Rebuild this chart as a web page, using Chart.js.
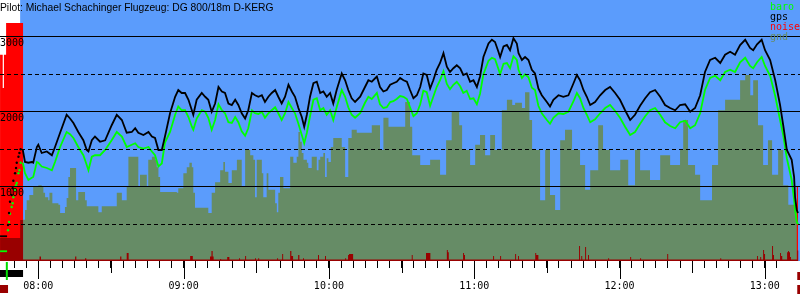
<!DOCTYPE html>
<html>
<head>
<meta charset="utf-8">
<script src="https://cdn.jsdelivr.net/npm/chart.js@4/dist/chart.umd.min.js"></script>
<style>
  html, body { margin: 0; padding: 0; background: #fff; }
  #wrap { width: 800px; height: 300px; }
</style>
</head>
<body>
<div id="wrap"><canvas id="flightChart" width="800" height="300"></canvas></div>
<script>
// all times are minutes after midnight, altitudes in metres
const timeMin = 464.18;
const timeMax = 794.53;
const skyStart = 472.5;
const skyEnd = 794.53;
const towStart = 467.1;
const towEnd = 473.6;

const titleText = 'Pilot: Michael Schachinger Flugzeug: DG 800/18m D-KERG';
const legendItems = ['baro', 'gps', 'noise', 'gnd'];
const altTicks = [500, 1000, 1500, 2000, 2500, 3000];

// gps / baro track
const trackTimes = [
  464.2, 467.1, 467.5, 467.9, 468.3, 469.0, 469.4, 469.7, 470.4, 470.8, 471.1, 471.8, 472.2, 472.7,
  473.6, 474.5, 475.9, 477.3, 477.9, 479.4, 480.0, 481.4, 483.5, 485.6,
  486.9, 489.0, 491.7, 493.1, 494.5, 496.5, 498.6, 500.0, 500.7, 502.1,
  503.4, 505.5, 507.6, 510.3, 512.4, 514.5, 516.5, 518.6, 520.0, 521.3,
  523.4, 525.5, 526.9, 528.2, 529.6, 531.0, 532.3, 534.4, 536.5, 537.8,
  539.2, 540.6, 542.0, 543.4, 544.0, 545.4, 547.5, 548.9, 550.2, 551.6,
  553.0, 554.4, 555.8, 557.1, 558.5, 559.9, 561.3, 562.6, 564.0, 565.4,
  566.7, 568.2, 569.5, 570.9, 572.3, 573.6, 575.0, 576.4, 577.8, 579.1,
  580.5, 581.9, 583.3, 584.7, 586.0, 587.4, 588.8, 589.8, 590.9, 592.2,
  593.6, 595.0, 596.4, 597.7, 599.1, 600.5, 601.8, 603.2, 605.3, 606.7,
  608.0, 609.4, 610.8, 612.9, 614.9, 616.3, 617.7, 619.8, 621.1, 622.5,
  623.9, 625.3, 626.6, 628.0, 629.4, 630.8, 632.2, 633.5, 634.9, 636.3,
  637.7, 639.0, 640.4, 641.8, 643.1, 644.5, 645.9, 647.3, 648.7, 650.0,
  651.4, 652.8, 654.2, 655.5, 656.9, 658.3, 659.7, 661.1, 662.4, 663.8,
  665.9, 667.3, 668.6, 670.0, 670.7, 672.1, 673.5, 674.8, 676.2, 677.6,
  678.3, 679.7, 681.0, 682.4, 683.8, 685.1, 686.5, 687.9, 690.0, 691.3,
  692.7, 694.8, 696.8, 698.9, 701.0, 702.4, 703.7, 705.1, 706.5, 707.9,
  709.9, 712.0, 714.1, 716.1, 718.2, 720.2, 722.3, 724.4, 726.4, 728.5,
  730.6, 732.6, 734.7, 736.8, 738.8, 740.9, 743.0, 745.0, 747.1, 749.2,
  751.2, 753.3, 755.3, 757.4, 759.5, 761.6, 763.6, 765.7, 767.7, 769.8,
  771.9, 773.9, 775.2, 776.8, 778.7, 780.1, 782.2, 784.3, 786.3, 787.6,
  789.1, 791.1, 792.1, 792.5, 793.2, 793.7
];
const gpsAlt = [
  330, 330, 480, 640, 790, 880, 970, 1070, 1170, 1240, 1310, 1390, 1440, 1490,
  1480, 1320, 1310, 1320, 1310, 1520, 1550, 1440, 1460, 1410,
  1520, 1710, 1950, 1900, 1840, 1720, 1610, 1480, 1460, 1610,
  1660, 1590, 1610, 1810, 1950, 1880, 1710, 1720, 1770, 1710,
  1680, 1720, 1660, 1640, 1480, 1480, 1660, 1970, 2190, 2280,
  2240, 2240, 2150, 2010, 1950, 2150, 2240, 2190, 2150, 1990,
  2100, 2320, 2260, 2240, 2100, 2080, 2150, 2080, 1970, 1900,
  2010, 2240, 2210, 2190, 2210, 2120, 2190, 2240, 2280, 2190,
  2100, 2190, 2350, 2260, 2190, 2040, 1920, 1790, 1950, 2190,
  2370, 2390, 2240, 2260, 2190, 2240, 2100, 2280, 2500, 2410,
  2280, 2170, 2120, 2190, 2320, 2410, 2390, 2460, 2320, 2260,
  2280, 2350, 2370, 2390, 2440, 2410, 2390, 2280, 2170, 2210,
  2320, 2500, 2480, 2300, 2410, 2550, 2640, 2770, 2590, 2520,
  2570, 2610, 2570, 2480, 2500, 2390, 2410, 2320, 2460, 2720,
  2900, 2950, 2920, 2790, 2720, 2860, 2880, 2810, 2970, 2900,
  2770, 2680, 2720, 2680, 2550, 2500, 2300, 2210, 2120, 2060,
  2150, 2210, 2190, 2210, 2370, 2480, 2410, 2280, 2190, 2080,
  2120, 2210, 2280, 2320, 2240, 2150, 2010, 1880, 1950, 2070,
  2170, 2250, 2280, 2190, 2080, 2040, 2010, 2080, 2090, 1990,
  2040, 2210, 2520, 2680, 2710, 2640, 2750, 2790, 2750, 2880,
  2950, 2840, 2810, 2890, 2950, 2810, 2680, 2410, 2080, 1810,
  1480, 1350, 1120, 850, 680, 640
];
const baroAlt = [
  130, 130, 410, 520, 630, 720, 770, 850, 950, 1010, 1040, 1170, 1210, 1310,
  1310, 1170, 1080, 1110, 1120, 1320, 1310, 1260, 1240, 1210,
  1320, 1520, 1720, 1690, 1640, 1520, 1410, 1280, 1210, 1390,
  1410, 1410, 1480, 1610, 1720, 1660, 1520, 1550, 1570, 1520,
  1500, 1520, 1460, 1410, 1260, 1300, 1580, 1720, 1950, 2060,
  2010, 2010, 1920, 1790, 1750, 1900, 2010, 1990, 1910, 1750,
  1880, 2090, 2010, 1970, 1850, 1840, 1920, 1850, 1730, 1670,
  1770, 2010, 1970, 1960, 1990, 1910, 1970, 2010, 2050, 1970,
  1880, 1970, 2120, 2040, 1970, 1830, 1680, 1570, 1710, 1930,
  2150, 2170, 2010, 2040, 1950, 2010, 1880, 2050, 2280, 2190,
  2050, 1950, 1910, 1970, 2110, 2190, 2160, 2240, 2090, 2040,
  2050, 2120, 2130, 2160, 2200, 2190, 2160, 2050, 1930, 1970,
  2090, 2270, 2250, 2070, 2190, 2320, 2410, 2530, 2360, 2290,
  2350, 2390, 2330, 2240, 2270, 2160, 2170, 2090, 2230, 2490,
  2670, 2710, 2690, 2560, 2490, 2630, 2640, 2570, 2730, 2680,
  2550, 2440, 2490, 2450, 2310, 2280, 2070, 1970, 1880, 1830,
  1910, 1970, 1960, 1990, 2130, 2240, 2170, 2040, 1950, 1850,
  1890, 1970, 2040, 2080, 2000, 1910, 1790, 1680, 1720, 1830,
  1930, 2010, 2040, 1950, 1850, 1800, 1770, 1850, 1870, 1770,
  1810, 1970, 2280, 2440, 2470, 2410, 2520, 2550, 2520, 2650,
  2710, 2600, 2570, 2650, 2720, 2600, 2470, 2200, 1880, 1680,
  1370, 1080, 810, 680, 520, 490
];

// terrain below the flight path (stepped)
const gndTimes = [
  473.7, 474.5, 475.2, 476.3, 477.9, 480.0, 481.4, 482.1, 482.8, 484.1,
  484.6, 485.8, 488.3, 489.0, 491.0, 491.7, 492.4, 493.1, 495.6, 496.5,
  499.3, 500.0, 504.8, 506.2, 512.4, 514.5, 516.5, 517.2, 521.3, 522.0,
  524.8, 525.4, 526.9, 528.2, 528.9, 529.6, 530.3, 537.2, 537.8, 539.9,
  541.3, 542.4, 543.4, 544.0, 544.7, 550.2, 551.6, 553.0, 555.1, 556.4,
  557.1, 558.5, 559.9, 562.0, 564.0, 565.4, 567.5, 568.8, 569.5, 570.2,
  572.3, 572.9, 574.3, 575.0, 577.8, 578.5, 579.1, 579.8, 581.2, 584.0,
  585.3, 586.7, 587.4, 588.1, 588.8, 589.5, 590.9, 591.5, 592.9, 595.0,
  595.7, 596.4, 597.7, 598.4, 599.1, 599.8, 600.8, 601.8, 605.3, 606.7,
  608.0, 609.4, 611.5, 617.7, 621.1, 622.5, 624.6, 631.5, 633.5, 634.4,
  637.7, 641.8, 645.9, 648.4, 650.7, 653.8, 655.0, 658.3, 660.4, 662.4,
  664.5, 666.6, 668.6, 671.4, 673.5, 675.7, 676.9, 679.7, 681.0, 682.8,
  683.9, 687.2, 689.3, 691.3, 693.4, 695.5, 697.5, 700.4, 703.7, 705.8,
  707.9, 711.2, 713.2, 716.1, 720.3, 723.6, 726.4, 728.5, 732.6, 736.8,
  740.9, 745.0, 746.3, 748.3, 751.2, 753.3, 758.2, 760.7, 763.6, 767.7,
  769.8, 771.9, 774.0, 775.2, 777.2, 779.3, 781.3, 783.0, 785.5, 787.6,
  789.7, 793.3, 793.8
];
const gndAlt = [
  550, 680, 810, 880, 990, 1010, 990, 910, 850, 810,
  910, 770, 750, 640, 720, 840, 1120, 1240, 810, 920,
  810, 730, 650, 730, 910, 810, 990, 1390, 990, 1150,
  990, 1350, 1390, 1350, 1250, 1120, 920, 910, 970, 1170,
  1250, 1310, 1250, 910, 710, 640, 910, 1050, 1210, 1320,
  1190, 1040, 1210, 1350, 990, 1480, 1410, 1350, 850, 1350,
  1170, 850, 1170, 950, 770, 650, 910, 1120, 970, 1390,
  1310, 1390, 1720, 1590, 1440, 1350, 1310, 1240, 1390, 1210,
  1350, 1390, 1440, 1120, 1370, 1320, 1520, 1640, 1520, 1120,
  1640, 1750, 1710, 1810, 1480, 1910, 1790, 2120, 1790, 1410,
  1280, 1350, 1150, 1610, 1990, 1810, 1480, 1280, 1550, 1680,
  1410, 1680, 1480, 2010, 2150, 2080, 2110, 2040, 2250, 1880,
  1480, 810, 1480, 880, 680, 1610, 1750, 1480, 1280, 950,
  1210, 1810, 1480, 1210, 1350, 1010, 1480, 1210, 1080, 1410,
  1280, 1480, 1880, 1280, 1150, 810, 1280, 2010, 2150, 2150,
  2410, 2480, 2210, 2410, 1810, 1280, 1610, 1150, 1480, 1010,
  750, 610, 610
];

// variometer noise level, 0..1000 (stepped)
const noiseTimes = [
  464.2, 472.5, 473.7, 480.5, 481.1, 495.2, 495.7, 499.3, 499.8, 513.8,
  514.3, 516.5, 517.3, 542.7, 543.8, 550.9, 551.5, 552.0, 552.4, 555.1,
  555.5, 558.0, 558.9, 562.9, 563.3, 565.4, 565.8, 569.5, 569.9, 570.8,
  571.2, 578.6, 579.0, 580.7, 581.1, 584.0, 584.5, 585.2, 587.3, 587.8,
  589.3, 589.7, 595.5, 595.9, 598.4, 598.8, 606.7, 607.1, 607.9, 608.3,
  610.0, 634.2, 634.6, 640.1, 641.9, 648.7, 649.1, 649.5, 655.4, 655.8,
  656.2, 667.8, 668.2, 670.7, 671.1, 676.9, 677.3, 678.1, 678.5, 685.2,
  685.6, 686.5, 703.3, 703.7, 704.2, 704.6, 705.8, 706.2, 707.0, 707.4,
  715.3, 715.7, 724.4, 724.8, 728.5, 728.9, 739.7, 740.1, 761.6, 762.0,
  776.8, 777.2, 778.1, 778.5, 779.3, 779.7, 780.1, 783.0, 783.4, 783.8,
  786.3, 786.7, 787.2, 789.2, 789.6, 790.0, 790.4, 790.8, 793.4, 793.9
];
const noiseLevel = [
  88, 157, 6, 17, 6, 17, 6, 11, 6, 17,
  6, 31, 6, 19, 6, 17, 38, 17, 6, 8,
  6, 15, 6, 11, 6, 19, 6, 11, 6, 11,
  6, 11, 6, 27, 6, 38, 19, 6, 23, 6,
  11, 6, 23, 6, 19, 6, 11, 6, 23, 27,
  6, 23, 6, 31, 6, 42, 34, 6, 31, 23,
  6, 19, 6, 19, 6, 27, 6, 19, 6, 31,
  23, 6, 57, 6, 19, 6, 54, 6, 23, 6,
  11, 6, 15, 6, 11, 6, 27, 6, 11, 6,
  19, 6, 15, 6, 42, 27, 6, 57, 23, 6,
  31, 19, 6, 34, 38, 34, 15, 6, 40, 0
];
// engine noise on ground and at the end
const engineTimes = [464.2, 465.3, 465.8, 466.7, 473.7, 793.2, 793.7];
const engineLevel = [790, 663, 790, 912, 0, 287, 0];

// markers below the time axis
const towBar = [464.18, 473.7];
const takeoffAt = 467.0;
const startBox = [464.18, 467.5];
const endBox = [793.4, 794.53];

const SKY = '#5b9cfc';
const GND = '#668c66';
const monoFont = { family: 'DejaVu Sans Mono', size: 10 };

const toPoints = (xs, ys) => xs.map((x, i) => ({ x: x, y: ys[i] }));
const inTow = ctx => ctx.raw && ctx.raw.x > towStart && ctx.raw.x < towEnd;
const towSegment = seg => (seg.p0.parsed.x >= towStart && seg.p1.parsed.x <= towEnd) ? 'rgba(0,0,0,0)' : undefined;
const pad2 = n => (n < 10 ? '0' : '') + n;

const skyPlugin = {
    id: 'sky',
    beforeDatasetsDraw(chart) {
        const { ctx, chartArea, scales } = chart;
        const x0 = scales.x.getPixelForValue(skyStart);
        const x1 = scales.x.getPixelForValue(skyEnd);
        ctx.save();
        ctx.fillStyle = SKY;
        ctx.fillRect(x0, chartArea.top, x1 - x0, chartArea.bottom - chartArea.top);
        ctx.restore();
    }
};

// altitude grid on top of the data: solid every 1000 m, dashed at 500 m
const altGridPlugin = {
    id: 'altGrid',
    afterDatasetsDraw(chart) {
        const { ctx, chartArea, scales } = chart;
        const ys = scales.y;
        ctx.save();
        ctx.strokeStyle = '#000';
        ctx.lineWidth = 1;
        ctx.fillStyle = '#000';
        ctx.font = '10px "DejaVu Sans Mono"';
        ctx.textBaseline = 'top';
        ctx.textAlign = 'left';
        ys.ticks.forEach(t => {
            const py = Math.round(ys.getPixelForValue(t.value)) + 0.5;
            const major = t.value % 1000 === 0;
            ctx.setLineDash(major ? [] : [4, 3]);
            ctx.beginPath();
            ctx.moveTo(chartArea.left, py);
            ctx.lineTo(chartArea.right, py);
            ctx.stroke();
            if (major) ctx.fillText(String(t.value), chartArea.left, py + 1.5);
        });
        ctx.restore();
    }
};

const overlayPlugin = {
    id: 'overlay',
    afterDraw(chart) {
        const { ctx, chartArea, scales } = chart;
        const xs = scales.x;
        const bottom = chartArea.bottom;
        ctx.save();

        // longer tick marks for half hours and hours
        ctx.strokeStyle = '#000';
        ctx.lineWidth = 1;
        xs.ticks.forEach(t => {
            if (t.value % 30 !== 0) return;
            const px = Math.round(xs.getPixelForValue(t.value)) + 0.5;
            const len = t.value % 60 === 0 ? 18 : 12;
            ctx.beginPath();
            ctx.moveTo(px, bottom);
            ctx.lineTo(px, bottom + len);
            ctx.stroke();
        });

        // flight phase markers
        const px = v => xs.getPixelForValue(v);
        ctx.fillStyle = '#000';
        ctx.fillRect(px(towBar[0]), bottom + 9, px(towBar[1]) - px(towBar[0]), 7);
        ctx.fillStyle = '#00dd00';
        ctx.fillRect(px(takeoffAt) - 1, bottom + 1, 2, 18);
        ctx.fillStyle = '#990000';
        ctx.fillRect(px(startBox[0]), bottom + 24, px(startBox[1]) - px(startBox[0]), 8);
        ctx.fillRect(px(endBox[0]), bottom + 11, px(endBox[1]) - px(endBox[0]), 8);
        ctx.fillRect(px(endBox[0]), bottom + 24, px(endBox[1]) - px(endBox[0]), 9);

        // title
        ctx.fillStyle = '#000';
        ctx.textBaseline = 'alphabetic';
        ctx.textAlign = 'left';
        ctx.font = '10.3px "Liberation Sans"';
        ctx.fillText(titleText, 0, 11);

        // legend
        const legendColors = ['#00ff00', '#000000', '#ff0000', GND];
        ctx.font = '10px "DejaVu Sans Mono"';
        legendItems.forEach((name, i) => {
            ctx.fillStyle = legendColors[i];
            ctx.fillText(name, 770, 10 + i * 10);
        });
        ctx.restore();
    }
};

const config = {
    type: 'line',
    data: {
        datasets: [
            {
                label: 'gps',
                data: toPoints(trackTimes, gpsAlt),
                borderColor: '#000',
                borderWidth: 1.8,
                pointRadius: ctx => inTow(ctx) ? 1.2 : 0,
                pointBorderWidth: 0,
                pointBackgroundColor: '#000',
                segment: { borderColor: towSegment },
                yAxisID: 'y'
            },
            {
                label: 'baro',
                data: toPoints(trackTimes, baroAlt),
                borderColor: '#00ff00',
                borderWidth: 1.8,
                pointRadius: ctx => inTow(ctx) ? 1.2 : 0,
                pointBorderWidth: 0,
                pointBackgroundColor: '#00ff00',
                segment: { borderColor: towSegment },
                yAxisID: 'y'
            },
            {
                label: 'noise',
                data: toPoints(noiseTimes, noiseLevel),
                stepped: true,
                fill: 'origin',
                backgroundColor: '#990000',
                borderColor: '#990000',
                borderWidth: 0,
                pointRadius: 0,
                yAxisID: 'yn'
            },
            {
                label: 'engine',
                data: toPoints(engineTimes, engineLevel),
                stepped: true,
                fill: 'origin',
                backgroundColor: '#ff0000',
                borderColor: '#ff0000',
                borderWidth: 0,
                pointRadius: 0,
                yAxisID: 'yn'
            },
            {
                label: 'gnd',
                data: toPoints(gndTimes, gndAlt),
                stepped: true,
                fill: 'origin',
                backgroundColor: GND,
                borderColor: GND,
                borderWidth: 0,
                pointRadius: 0,
                yAxisID: 'y'
            }
        ]
    },
    options: {
        responsive: false,
        animation: false,
        events: [],
        layout: { padding: 0 },
        plugins: {
            legend: { display: false },
            tooltip: { enabled: false }
        },
        scales: {
            x: {
                type: 'linear',
                min: timeMin,
                max: timeMax,
                afterFit: s => { s.height = 39; },
                afterBuildTicks: s => { s.ticks = s.ticks.filter(t => t.value % 5 === 0); },
                ticks: {
                    stepSize: 5,
                    autoSkip: false,
                    maxRotation: 0,
                    padding: 12,
                    color: '#000',
                    font: monoFont,
                    callback: v => v % 60 === 0 ? pad2(v / 60) + ':00' : ''
                },
                grid: { drawOnChartArea: false, tickLength: 7, tickColor: '#000', tickWidth: 1 },
                border: { display: false }
            },
            y: {
                display: false,
                min: 0,
                max: 3480,
                afterBuildTicks: s => { s.ticks = altTicks.map(v => ({ value: v })); }
            },
            yn: {
                display: false,
                min: 0,
                max: 1000
            }
        }
    },
    plugins: [skyPlugin, altGridPlugin, overlayPlugin]
};

new Chart(document.getElementById('flightChart'), config);
</script>
</body>
</html>
